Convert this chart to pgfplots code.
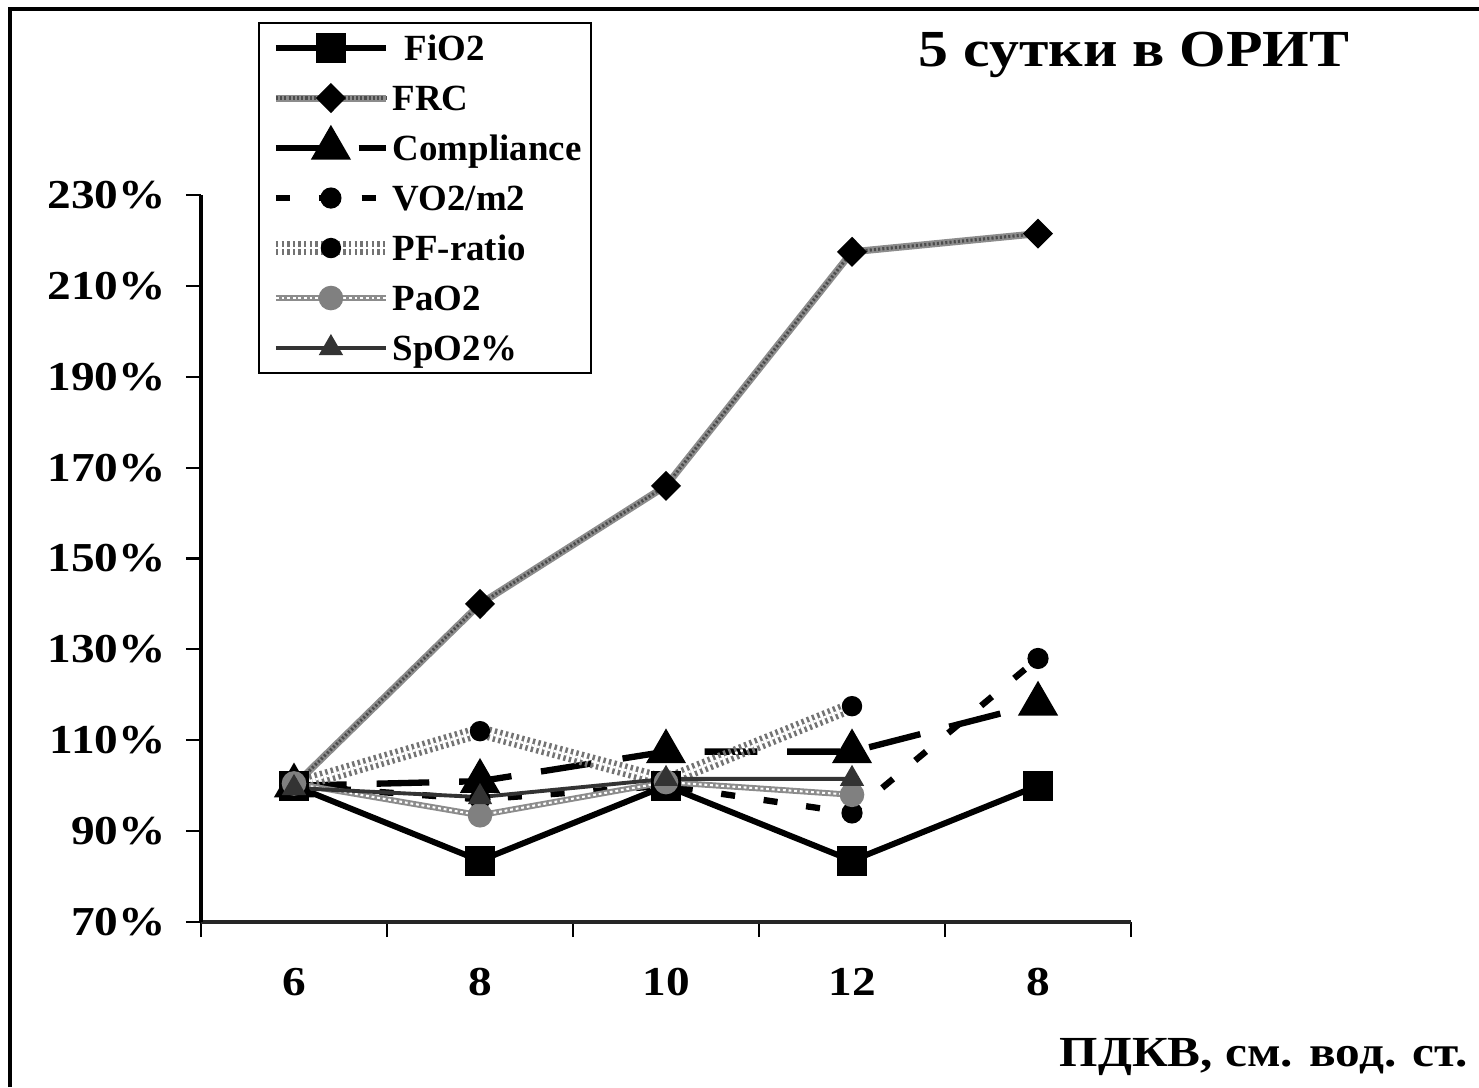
\documentclass[border=0pt]{standalone}
\usepackage{fontspec}
\setmainfont{Liberation Serif}[FakeStretch=1.15]
\newfontfamily\plainfont{Liberation Serif}
\usepackage{pgfplots}
\pgfplotsset{compat=1.18}

\definecolor{frcgray}{gray}{0.55}
\definecolor{paogray}{gray}{0.55}
\definecolor{markgray}{gray}{0.5}
\definecolor{spogray}{gray}{0.2}

\tikzset{
  frcline/.style={draw=frcgray, line width=2pt,
    postaction={draw=black!70, line width=0.9pt, dash pattern=on 0.6pt off 0.6pt}},
  pfline/.style={draw=black!55, line width=1.6pt, double=white, double distance=0.7pt,
    dash pattern=on 0.7pt off 0.9pt},
  paoline/.style={draw=paogray, line width=1.7pt,
    postaction={draw=white, line width=0.6pt, dash pattern=on 0.8pt off 0.8pt}},
}

\begin{document}
\begin{tikzpicture}[x=1cm,y=1cm]
\useasboundingbox (0,0) rectangle (14.79,10.87);
% outer frame
\draw[line width=1.2pt] (0.10,0) -- (0.10,10.78) -- (14.79,10.78);

\begin{axis}[
  at={(2.01cm,1.65cm)}, anchor=south west,
  scale only axis, width=9.30cm, height=7.27cm,
  xmin=-0.5, xmax=4.5, ymin=70, ymax=230,
  axis lines=left, axis line style={-, line width=1pt},
  x axis line style={line width=1.2pt, draw=black!85},
  tick align=outside,
  major tick length=0.15cm,
  tick style={line width=0.6pt, black},
  ytick={70,90,...,230},
  yticklabel={\pgfmathprintnumber{\tick}\%},
  yticklabel style={xshift=-0.08cm},
  /pgf/number format/assume math mode=true,
  xtick={-0.5,0.5,...,4.5},
  xticklabels={,,,,,},
  extra x ticks={0,1,2,3,4},
  extra x tick labels={6,8,10,12,8},
  extra x tick style={major tick length=0pt, xticklabel style={yshift=-0.34cm}},
  ticklabel style={font=\bfseries\fontsize{11.7}{14}\selectfont},
  clip=false,
  legend style={at={(0.0613,1.238)}, anchor=north west, draw=black, line width=0.6pt,
    font=\plainfont\bfseries\fontsize{10.5}{12}\selectfont,
    cells={anchor=west}, inner xsep=0.1cm, inner ysep=0pt, row sep=0pt,
    /tikz/every even column/.append style={column sep=0.1cm},
    nodes={inner sep=0pt, text height=0.37cm, text depth=0.13cm}},
  legend image code/.code={\draw[mark repeat=2,mark phase=2,#1]
    plot coordinates {(0cm,0cm) (0.55cm,0cm) (1.1cm,0cm)};},
]

\addplot[black, line width=1.7pt, mark=square*, mark size=3.4pt,
  mark options={solid, fill=black}]
  coordinates {(0,100) (1,83.5) (2,100) (3,83.5) (4,100)};
\addlegendentry{\hspace{0.12cm}FiO2}

\addplot[frcline, mark=diamond*, mark size=4pt,
  mark options={solid, draw=black, fill=black, line width=0.4pt, xscale=1.33}]
  coordinates {(0,100) (1,140) (2,166) (3,217.5) (4,221.5)};
\addlegendentry{FRC}

\addplot[black, line width=1.8pt, dash pattern=on 15pt off 8.5pt,
  mark=triangle*, mark size=4.8pt, mark options={solid, fill=black}]
  coordinates {(0,100) (1,101) (2,107.5) (3,107.5) (4,118)};
\addlegendentry{Compliance}

\addplot[black, line width=1.8pt, dash pattern=on 4pt off 8.2pt,
  mark=*, mark size=2.1pt, mark options={solid, fill=black}]
  coordinates {(0,100) (1,97) (2,100) (3,94) (4,128)};
\addlegendentry{VO2/m2}

\addplot[pfline, mark=*, mark size=2.7pt,
  mark options={solid, draw=black, fill=black, line width=0.4pt}]
  coordinates {(0,100) (1,112) (2,101) (3,117.5)};
\addlegendentry{PF-ratio}

\addplot[paoline, mark=*, mark size=3.3pt,
  mark options={solid, draw=markgray, fill=markgray, line width=0.4pt}]
  coordinates {(0,100.5) (1,93.5) (2,100.8) (3,98)};
\addlegendentry{PaO2}

\addplot[spogray, line width=1.1pt, mark=triangle*, mark size=2.9pt,
  mark options={solid, fill=spogray}]
  coordinates {(0,99.5) (1,97.5) (2,101.5) (3,101.5)};
\addlegendentry{SpO2\%}

\end{axis}

\node[font=\bfseries\fontsize{14.8}{17}\selectfont] at (11.34,10.32) {5 сутки в ОРИТ};
\node[anchor=east, font=\bfseries\fontsize{12.2}{15}\selectfont] at (14.80,0.30) {ПДКВ, см. вод. ст.};
\end{tikzpicture}
\end{document}
